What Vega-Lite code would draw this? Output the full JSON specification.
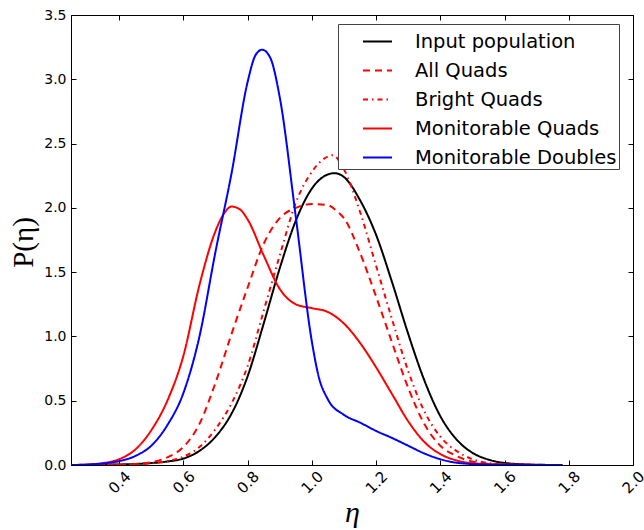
{
  "$schema": "https://vega.github.io/schema/vega-lite/v6.json",
  "width": 562,
  "height": 450,
  "autosize": {"type": "none"},
  "padding": {"left": 71, "top": 15, "right": 11, "bottom": 65},
  "background": "white",
  "config": {
    "view": {"stroke": "black", "strokeWidth": 1},
    "axis": {
      "domainColor": "black",
      "tickColor": "black",
      "labelColor": "black",
      "labelFont": "DejaVu Sans",
      "labelFontSize": 14,
      "grid": false,
      "tickSize": -5,
      "titleColor": "black",
      "titleFontWeight": "normal"
    },
    "legend": {
      "orient": "none",
      "legendX": 267,
      "legendY": 9,
      "fillColor": "white",
      "strokeColor": "#444444",
      "padding": 2,
      "cornerRadius": 0,
      "symbolType": "stroke",
      "symbolSize": 841,
      "symbolStrokeWidth": 2,
      "symbolOffset": 22,
      "labelFont": "DejaVu Sans",
      "labelFontSize": 19.5,
      "labelColor": "black",
      "labelOffset": 22,
      "rowPadding": 4,
      "labelLimit": 400
    }
  },
  "data": {
    "values": [
      {"series": "Input population", "eta": 0.25, "p": 0.0},
      {"series": "Input population", "eta": 0.35, "p": 0.002},
      {"series": "Input population", "eta": 0.45, "p": 0.008},
      {"series": "Input population", "eta": 0.5, "p": 0.015},
      {"series": "Input population", "eta": 0.55, "p": 0.027},
      {"series": "Input population", "eta": 0.6, "p": 0.05},
      {"series": "Input population", "eta": 0.65, "p": 0.11},
      {"series": "Input population", "eta": 0.7, "p": 0.22},
      {"series": "Input population", "eta": 0.75, "p": 0.4},
      {"series": "Input population", "eta": 0.775, "p": 0.53},
      {"series": "Input population", "eta": 0.8, "p": 0.69},
      {"series": "Input population", "eta": 0.85, "p": 1.1},
      {"series": "Input population", "eta": 0.9, "p": 1.53},
      {"series": "Input population", "eta": 0.95, "p": 1.9},
      {"series": "Input population", "eta": 1.0, "p": 2.15},
      {"series": "Input population", "eta": 1.05, "p": 2.26},
      {"series": "Input population", "eta": 1.07, "p": 2.27},
      {"series": "Input population", "eta": 1.1, "p": 2.24},
      {"series": "Input population", "eta": 1.15, "p": 2.06},
      {"series": "Input population", "eta": 1.2, "p": 1.79},
      {"series": "Input population", "eta": 1.25, "p": 1.42},
      {"series": "Input population", "eta": 1.3, "p": 1.02},
      {"series": "Input population", "eta": 1.35, "p": 0.66},
      {"series": "Input population", "eta": 1.4, "p": 0.38},
      {"series": "Input population", "eta": 1.45, "p": 0.2},
      {"series": "Input population", "eta": 1.5, "p": 0.095},
      {"series": "Input population", "eta": 1.55, "p": 0.042},
      {"series": "Input population", "eta": 1.6, "p": 0.016},
      {"series": "Input population", "eta": 1.7, "p": 0.002},
      {"series": "Input population", "eta": 1.78, "p": 0.0},

      {"series": "All Quads", "eta": 0.25, "p": 0.0},
      {"series": "All Quads", "eta": 0.4, "p": 0.003},
      {"series": "All Quads", "eta": 0.45, "p": 0.008},
      {"series": "All Quads", "eta": 0.5, "p": 0.022},
      {"series": "All Quads", "eta": 0.55, "p": 0.06},
      {"series": "All Quads", "eta": 0.6, "p": 0.14},
      {"series": "All Quads", "eta": 0.65, "p": 0.32},
      {"series": "All Quads", "eta": 0.7, "p": 0.64},
      {"series": "All Quads", "eta": 0.75, "p": 1.02},
      {"series": "All Quads", "eta": 0.8, "p": 1.38},
      {"series": "All Quads", "eta": 0.85, "p": 1.72},
      {"series": "All Quads", "eta": 0.9, "p": 1.92},
      {"series": "All Quads", "eta": 0.95, "p": 2.0},
      {"series": "All Quads", "eta": 1.0, "p": 2.03},
      {"series": "All Quads", "eta": 1.05, "p": 2.02},
      {"series": "All Quads", "eta": 1.08, "p": 1.97},
      {"series": "All Quads", "eta": 1.1, "p": 1.92},
      {"series": "All Quads", "eta": 1.15, "p": 1.65},
      {"series": "All Quads", "eta": 1.2, "p": 1.31},
      {"series": "All Quads", "eta": 1.25, "p": 0.95},
      {"series": "All Quads", "eta": 1.3, "p": 0.6},
      {"series": "All Quads", "eta": 1.35, "p": 0.32},
      {"series": "All Quads", "eta": 1.4, "p": 0.15},
      {"series": "All Quads", "eta": 1.45, "p": 0.07},
      {"series": "All Quads", "eta": 1.5, "p": 0.027},
      {"series": "All Quads", "eta": 1.55, "p": 0.009},
      {"series": "All Quads", "eta": 1.6, "p": 0.003},
      {"series": "All Quads", "eta": 1.78, "p": 0.0},

      {"series": "Bright Quads", "eta": 0.25, "p": 0.0},
      {"series": "Bright Quads", "eta": 0.45, "p": 0.005},
      {"series": "Bright Quads", "eta": 0.5, "p": 0.013},
      {"series": "Bright Quads", "eta": 0.55, "p": 0.03},
      {"series": "Bright Quads", "eta": 0.6, "p": 0.065},
      {"series": "Bright Quads", "eta": 0.65, "p": 0.14},
      {"series": "Bright Quads", "eta": 0.7, "p": 0.28},
      {"series": "Bright Quads", "eta": 0.75, "p": 0.48},
      {"series": "Bright Quads", "eta": 0.8, "p": 0.77},
      {"series": "Bright Quads", "eta": 0.85, "p": 1.2},
      {"series": "Bright Quads", "eta": 0.9, "p": 1.63},
      {"series": "Bright Quads", "eta": 0.95, "p": 2.04},
      {"series": "Bright Quads", "eta": 1.0, "p": 2.28},
      {"series": "Bright Quads", "eta": 1.05, "p": 2.4},
      {"series": "Bright Quads", "eta": 1.065, "p": 2.41},
      {"series": "Bright Quads", "eta": 1.1, "p": 2.3},
      {"series": "Bright Quads", "eta": 1.15, "p": 1.97},
      {"series": "Bright Quads", "eta": 1.2, "p": 1.55},
      {"series": "Bright Quads", "eta": 1.25, "p": 1.13},
      {"series": "Bright Quads", "eta": 1.3, "p": 0.73},
      {"series": "Bright Quads", "eta": 1.35, "p": 0.42},
      {"series": "Bright Quads", "eta": 1.4, "p": 0.22},
      {"series": "Bright Quads", "eta": 1.45, "p": 0.11},
      {"series": "Bright Quads", "eta": 1.5, "p": 0.045},
      {"series": "Bright Quads", "eta": 1.55, "p": 0.015},
      {"series": "Bright Quads", "eta": 1.6, "p": 0.005},
      {"series": "Bright Quads", "eta": 1.78, "p": 0.0},

      {"series": "Monitorable Quads", "eta": 0.25, "p": 0.0},
      {"series": "Monitorable Quads", "eta": 0.3, "p": 0.004},
      {"series": "Monitorable Quads", "eta": 0.35, "p": 0.015},
      {"series": "Monitorable Quads", "eta": 0.4, "p": 0.045},
      {"series": "Monitorable Quads", "eta": 0.45, "p": 0.12},
      {"series": "Monitorable Quads", "eta": 0.5, "p": 0.27},
      {"series": "Monitorable Quads", "eta": 0.55, "p": 0.5},
      {"series": "Monitorable Quads", "eta": 0.6, "p": 0.85},
      {"series": "Monitorable Quads", "eta": 0.65, "p": 1.4},
      {"series": "Monitorable Quads", "eta": 0.7, "p": 1.82},
      {"series": "Monitorable Quads", "eta": 0.725, "p": 1.95},
      {"series": "Monitorable Quads", "eta": 0.75, "p": 2.01},
      {"series": "Monitorable Quads", "eta": 0.775, "p": 1.99},
      {"series": "Monitorable Quads", "eta": 0.8, "p": 1.91},
      {"series": "Monitorable Quads", "eta": 0.85, "p": 1.63},
      {"series": "Monitorable Quads", "eta": 0.9, "p": 1.37},
      {"series": "Monitorable Quads", "eta": 0.95, "p": 1.25},
      {"series": "Monitorable Quads", "eta": 1.0, "p": 1.22},
      {"series": "Monitorable Quads", "eta": 1.05, "p": 1.19},
      {"series": "Monitorable Quads", "eta": 1.1, "p": 1.1},
      {"series": "Monitorable Quads", "eta": 1.15, "p": 0.95},
      {"series": "Monitorable Quads", "eta": 1.2, "p": 0.76},
      {"series": "Monitorable Quads", "eta": 1.25, "p": 0.55},
      {"series": "Monitorable Quads", "eta": 1.3, "p": 0.34},
      {"series": "Monitorable Quads", "eta": 1.35, "p": 0.18},
      {"series": "Monitorable Quads", "eta": 1.4, "p": 0.085},
      {"series": "Monitorable Quads", "eta": 1.45, "p": 0.036},
      {"series": "Monitorable Quads", "eta": 1.5, "p": 0.014},
      {"series": "Monitorable Quads", "eta": 1.6, "p": 0.003},
      {"series": "Monitorable Quads", "eta": 1.78, "p": 0.0},

      {"series": "Monitorable Doubles", "eta": 0.25, "p": 0.0},
      {"series": "Monitorable Doubles", "eta": 0.3, "p": 0.003},
      {"series": "Monitorable Doubles", "eta": 0.35, "p": 0.012},
      {"series": "Monitorable Doubles", "eta": 0.4, "p": 0.03},
      {"series": "Monitorable Doubles", "eta": 0.45, "p": 0.07},
      {"series": "Monitorable Doubles", "eta": 0.5, "p": 0.15},
      {"series": "Monitorable Doubles", "eta": 0.55, "p": 0.31},
      {"series": "Monitorable Doubles", "eta": 0.6, "p": 0.56},
      {"series": "Monitorable Doubles", "eta": 0.65, "p": 1.0},
      {"series": "Monitorable Doubles", "eta": 0.7, "p": 1.66},
      {"series": "Monitorable Doubles", "eta": 0.75, "p": 2.27},
      {"series": "Monitorable Doubles", "eta": 0.8, "p": 2.98},
      {"series": "Monitorable Doubles", "eta": 0.825, "p": 3.19},
      {"series": "Monitorable Doubles", "eta": 0.845, "p": 3.23},
      {"series": "Monitorable Doubles", "eta": 0.87, "p": 3.17},
      {"series": "Monitorable Doubles", "eta": 0.9, "p": 2.86},
      {"series": "Monitorable Doubles", "eta": 0.95, "p": 1.93},
      {"series": "Monitorable Doubles", "eta": 1.0, "p": 0.96},
      {"series": "Monitorable Doubles", "eta": 1.02, "p": 0.7},
      {"series": "Monitorable Doubles", "eta": 1.05, "p": 0.51},
      {"series": "Monitorable Doubles", "eta": 1.1, "p": 0.39},
      {"series": "Monitorable Doubles", "eta": 1.15, "p": 0.33},
      {"series": "Monitorable Doubles", "eta": 1.2, "p": 0.265},
      {"series": "Monitorable Doubles", "eta": 1.25, "p": 0.21},
      {"series": "Monitorable Doubles", "eta": 1.3, "p": 0.15},
      {"series": "Monitorable Doubles", "eta": 1.35, "p": 0.09},
      {"series": "Monitorable Doubles", "eta": 1.4, "p": 0.045},
      {"series": "Monitorable Doubles", "eta": 1.45, "p": 0.018},
      {"series": "Monitorable Doubles", "eta": 1.55, "p": 0.003},
      {"series": "Monitorable Doubles", "eta": 1.78, "p": 0.0}
    ]
  },
  "layer": [
    {
      "mark": {"type": "line", "strokeWidth": 2, "interpolate": "monotone", "clip": true},
      "encoding": {
        "x": {
          "field": "eta", "type": "quantitative",
          "scale": {"domain": [0.25, 2.0], "nice": false, "zero": false},
          "axis": {
            "orient": "bottom",
            "values": [0.4, 0.6, 0.8, 1.0, 1.2, 1.4, 1.6, 1.8, 2.0],
            "format": ".1f",
            "labelAngle": -45,
            "labelAlign": "center",
            "labelBaseline": "middle",
            "labelFontSize": 15,
            "labelPadding": 22,
            "title": "η",
            "titleFont": "Liberation Serif",
            "titleFontStyle": "italic",
            "titleFontSize": 30,
            "titleX": 281,
            "titleY": 56,
            "titleAlign": "center",
            "titleBaseline": "alphabetic"
          }
        },
        "y": {
          "field": "p", "type": "quantitative",
          "scale": {"domain": [0, 3.5], "nice": false},
          "axis": {
            "orient": "left",
            "values": [0, 0.5, 1.0, 1.5, 2.0, 2.5, 3.0, 3.5],
            "format": ".1f",
            "labelPadding": 10,
            "title": "P(η)",
            "titleFont": "Liberation Serif",
            "titleFontSize": 29,
            "titleAngle": -90,
            "titleX": -48,
            "titleY": 227,
            "titleAlign": "center",
            "titleBaseline": "middle"
          }
        },
        "color": {
          "field": "series", "type": "nominal",
          "scale": {
            "domain": ["Input population", "All Quads", "Bright Quads", "Monitorable Quads", "Monitorable Doubles"],
            "range": ["#000000", "#ff0000", "#ff0000", "#ff0000", "#0000ff"]
          },
          "legend": {"title": null}
        },
        "strokeDash": {
          "field": "series", "type": "nominal",
          "scale": {
            "domain": ["Input population", "All Quads", "Bright Quads", "Monitorable Quads", "Monitorable Doubles"],
            "range": [[1, 0], [7, 5], [5, 4, 1.5, 4], [1, 0], [1, 0]]
          },
          "legend": {"title": null}
        }
      }
    },
    {
      "mark": {"type": "line", "opacity": 0},
      "encoding": {
        "x": {
          "field": "eta", "type": "quantitative",
          "scale": {"domain": [0.25, 2.0], "nice": false, "zero": false},
          "axis": {"orient": "top", "values": [0.4, 0.6, 0.8, 1.0, 1.2, 1.4, 1.6, 1.8, 2.0], "labels": false, "title": null, "domain": false}
        },
        "y": {
          "field": "p", "type": "quantitative",
          "scale": {"domain": [0, 3.5], "nice": false},
          "axis": {"orient": "right", "values": [0, 0.5, 1.0, 1.5, 2.0, 2.5, 3.0, 3.5], "labels": false, "title": null, "domain": false}
        },
        "detail": {"field": "series", "type": "nominal"}
      }
    }
  ],
  "resolve": {"axis": {"x": "independent", "y": "independent"}}
}
